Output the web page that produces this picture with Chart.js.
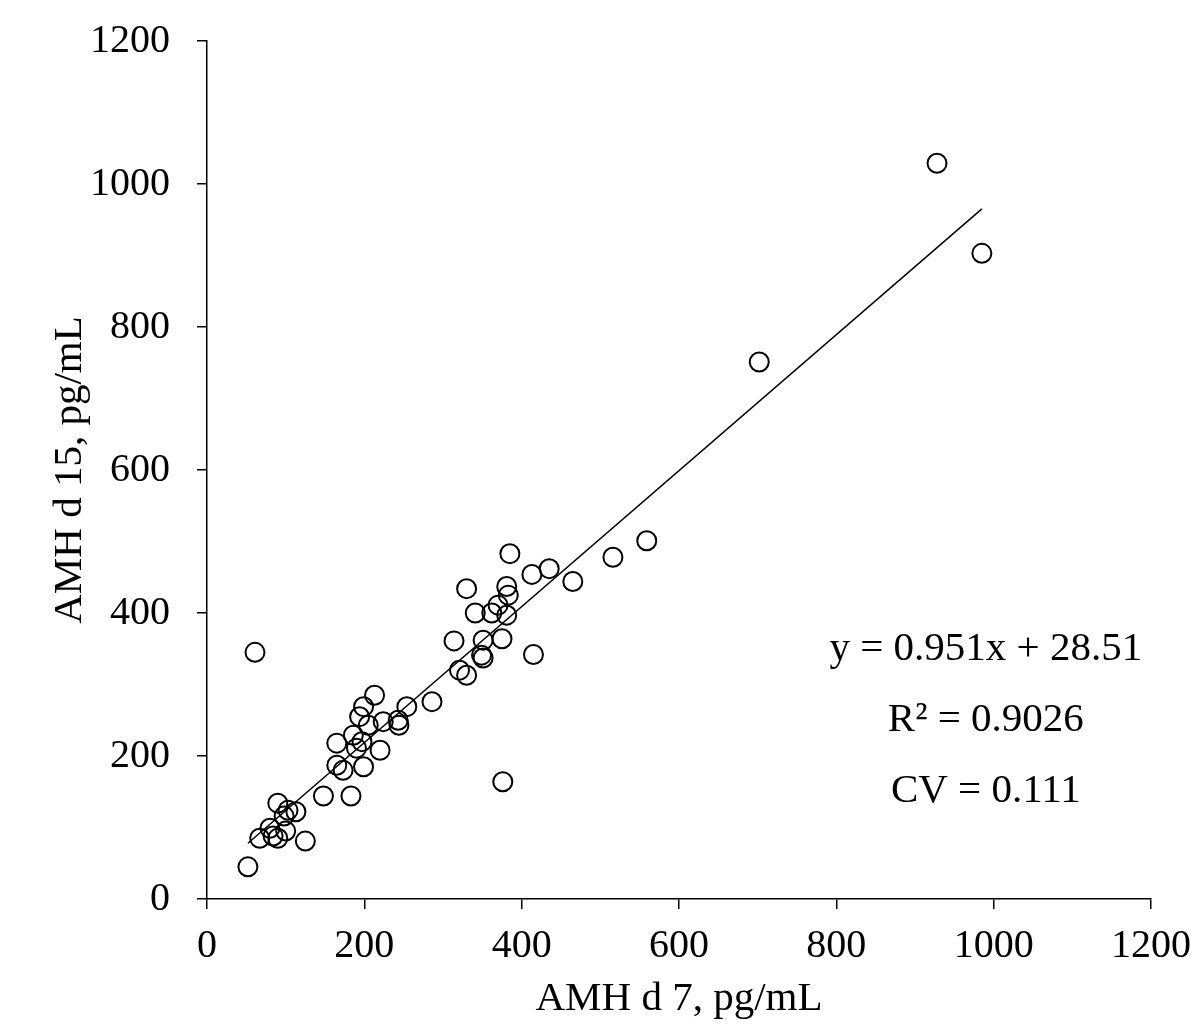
<!DOCTYPE html>
<html><head><meta charset="utf-8">
<script src="https://cdn.jsdelivr.net/npm/chart.js@4.4.0/dist/chart.umd.min.js"></script>
<style>html,body{margin:0;padding:0;background:#fff}</style>
</head><body>
<canvas id="c" width="1191" height="1028"></canvas>
<script>
// AMH day 7 (x) and day 15 (y), pg/mL
const amhDay7 = [52, 61, 67, 80, 84, 90, 90, 98, 100, 103, 113, 125,
  148, 183, 165, 173, 199, 165, 190, 220, 186, 197, 205, 194, 199, 213, 224, 243, 244, 254, 286,
  314, 321, 330, 330, 341, 349, 351, 351, 362, 370, 375, 381, 381, 383, 385, 413, 415, 435, 465, 376, 516, 559, 702, 928, 985];
const amhDay15 = [45, 345, 85, 99, 88, 134, 85, 116, 95, 124, 122, 81,
  144, 144, 187, 180, 185, 218, 211, 208, 229, 220, 243, 255, 269, 285, 248, 250, 243, 269, 276,
  361, 320, 313, 434, 400, 341, 337, 362, 400, 411, 364, 397, 437, 425, 483, 454, 342, 462, 444, 164, 478, 501, 751, 1029, 903];
const axisTicks = [0, 200, 400, 600, 800, 1000, 1200];
const fitSlope = 0.951;
const fitIntercept = 28.51;
const statLines = ["y = 0.951x + 28.51", "R\u00B2 = 0.9026", "CV = 0.111"];
const xTitle = "AMH d 7, pg/mL";
const yTitle = "AMH d 15, pg/mL";

const points = amhDay7.map((x, i) => ({x, y: amhDay15[i]}));
const xMin = Math.min(...amhDay7), xMax = Math.max(...amhDay7);
const fitLine = [xMin, xMax].map(x => ({x, y: fitSlope * x + fitIntercept}));

const FONT = "'Liberation Serif','Times New Roman',serif";

const statsPlugin = {
  id: 'stats',
  afterDraw(chart) {
    const ctx = chart.ctx;
    const xs = chart.scales.x, ys = chart.scales.y;
    const cx = xs.getPixelForValue(990);
    const y0 = ys.getPixelForValue(334);
    ctx.save();
    ctx.fillStyle = '#000';
    ctx.font = '41px ' + FONT;
    ctx.textAlign = 'center';
    ctx.textBaseline = 'alphabetic';
    statLines.forEach((t, i) => ctx.fillText(t, cx, y0 + i * 71));
    ctx.restore();
  }
};

const axisCommon = {
  type: 'linear', min: 0, max: 1200,
  border: {display: true, color: '#000', width: 1.5},
  grid: {display: true, drawOnChartArea: false, drawTicks: true, tickLength: 10, color: '#000', lineWidth: 1.5},
};
const plainLabel = v => String(v);

new Chart(document.getElementById('c'), {
  type: 'scatter',
  data: {
    datasets: [
      {type: 'line', data: fitLine, borderColor: '#000', borderWidth: 1.5, pointRadius: 0, fill: false, order: 1},
      {data: points, pointRadius: 9.5, pointHoverRadius: 9.5, borderColor: '#000', backgroundColor: 'rgba(0,0,0,0)', pointBorderWidth: 2, borderWidth: 2, order: 0}
    ]
  },
  options: {
    responsive: false, animation: false, devicePixelRatio: 1,
    layout: {padding: {top: 41, right: 40, bottom: 0, left: 0}},
    plugins: {legend: {display: false}, tooltip: {enabled: false}},
    scales: {
      x: Object.assign({}, axisCommon, {
        position: 'bottom',
        afterBuildTicks: s => { s.ticks = axisTicks.map(v => ({value: v})); },
        ticks: {color: '#000', font: {family: FONT, size: 40}, padding: 13, maxRotation: 0, callback: plainLabel},
        title: {display: true, text: xTitle, color: '#000', font: {family: FONT, size: 41}, padding: {top: 0, bottom: 4}},
        afterFit: s => { s.height = 129; s.paddingLeft = 0; s.paddingRight = 0; }
      }),
      y: Object.assign({}, axisCommon, {
        position: 'left',
        afterBuildTicks: s => { s.ticks = axisTicks.map(v => ({value: v})); },
        ticks: {color: '#000', font: {family: FONT, size: 40}, padding: 27, callback: plainLabel},
        title: {display: true, text: yTitle, color: '#000', font: {family: FONT, size: 41}, padding: {top: 46, bottom: 0}},
        afterFit: s => { s.width = 207; s.paddingTop = 0; s.paddingBottom = 0; }
      })
    }
  },
  plugins: [statsPlugin]
});
</script>
</body></html>
